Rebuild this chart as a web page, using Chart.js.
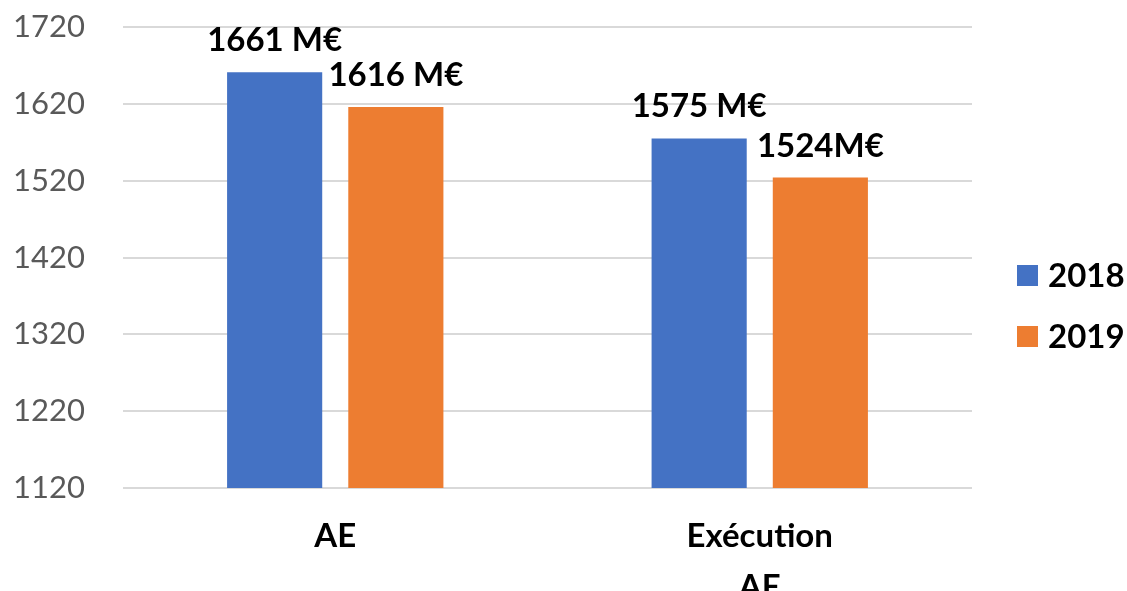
<!DOCTYPE html>
<html>
<head>
<meta charset="utf-8">
<script src="https://cdn.jsdelivr.net/npm/chart.js@4"></script>
<style>
  html, body { margin: 0; padding: 0; background: #fff; }
  #wrap { width: 1127px; height: 591px; }
</style>
</head>
<body>
<div id="wrap"><canvas id="budgetChart" width="1127" height="591"></canvas></div>
<script>
// AE vs execution AE, 2018 and 2019 (millions of euros)
const categories = [['AE'], ['Exécution', 'AE']];
const years = ['2018', '2019'];
const values2018 = [1661, 1575];
const values2019 = [1616, 1524];
const valueLabels2018 = ['1661 M€', '1575 M€'];
const valueLabels2019 = ['1616 M€', '1524M€'];
const yMin = 1120;
const yMax = 1720;
const yStep = 100;

const colors = ['#4472C4', '#ED7D31'];
const fontFamily = 'Lato, "Open Sans", sans-serif';

// Value text above each bar
const barLabels = {
    id: 'barLabels',
    afterDatasetsDraw(chart) {
        const ctx = chart.ctx;
        const texts = [valueLabels2018, valueLabels2019];
        ctx.save();
        ctx.font = 'bold 33px ' + fontFamily;
        ctx.fillStyle = '#000';
        ctx.textAlign = 'center';
        ctx.textBaseline = 'alphabetic';
        chart.data.datasets.forEach((ds, i) => {
            chart.getDatasetMeta(i).data.forEach((bar, j) => {
                ctx.fillText(texts[i][j], bar.x, bar.y - 21);
            });
        });
        ctx.restore();
    }
};

// Legend on the right, squares + bold year
const sideLegend = {
    id: 'sideLegend',
    afterDraw(chart) {
        const ctx = chart.ctx;
        ctx.save();
        ctx.font = 'bold 33px ' + fontFamily;
        ctx.textBaseline = 'alphabetic';
        ctx.textAlign = 'left';
        years.forEach((year, i) => {
            const top = 265 + i * 61;
            ctx.fillStyle = colors[i];
            ctx.fillRect(1017, top, 21, 21);
            ctx.fillStyle = '#000';
            ctx.fillText(year, 1048, top + 22);
        });
        ctx.restore();
    }
};

const budgetCtx = document.getElementById('budgetChart').getContext('2d');
const budgetChart = new Chart(budgetCtx, {
    type: 'bar',
    data: {
        labels: categories,
        datasets: [{
            label: years[0],
            data: values2018,
            backgroundColor: colors[0],
            categoryPercentage: 0.571,
            barPercentage: 0.785
        }, {
            label: years[1],
            data: values2019,
            backgroundColor: colors[1],
            categoryPercentage: 0.571,
            barPercentage: 0.785
        }]
    },
    options: {
        responsive: false,
        animation: false,
        layout: {
            padding: { top: 27, right: 155, bottom: 0, left: 0 }
        },
        plugins: {
            legend: { display: false },
            tooltip: { enabled: false }
        },
        scales: {
            x: {
                grid: { display: false, drawTicks: false },
                border: { display: false },
                ticks: {
                    color: '#000',
                    padding: 23,
                    font: { family: fontFamily, size: 33, weight: 'bold', lineHeight: 1.55 }
                },
                afterFit(scale) {
                    scale.height = 103;
                    scale.paddingTop = 0;
                    scale.paddingBottom = 0;
                }
            },
            y: {
                min: yMin,
                max: yMax,
                grid: { color: '#d9d9d9', lineWidth: 2, drawTicks: false },
                border: { display: false },
                ticks: {
                    stepSize: yStep,
                    color: '#595959',
                    padding: 38,
                    font: { family: fontFamily, size: 31 },
                    callback: (v) => String(v)
                },
                afterFit(scale) {
                    scale.width = 123;
                    scale.paddingTop = 0;
                    scale.paddingBottom = 0;
                }
            }
        }
    },
    plugins: [barLabels, sideLegend]
});
</script>
</body>
</html>
